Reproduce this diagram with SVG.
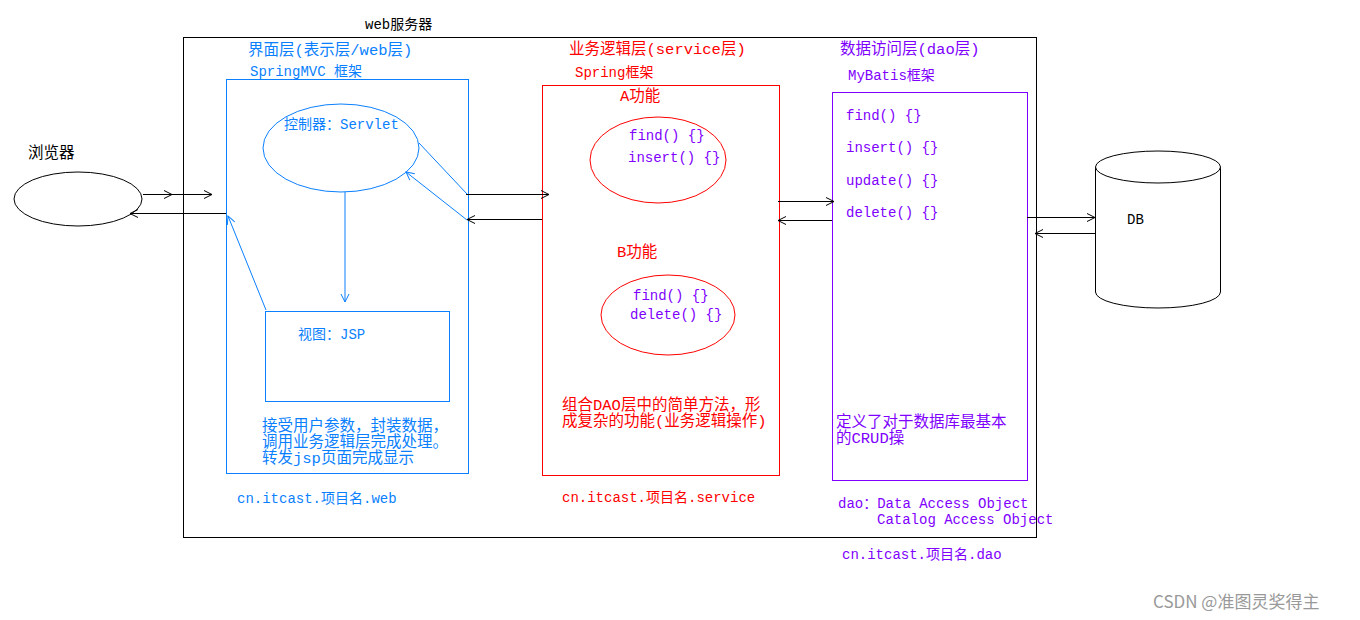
<svg xmlns="http://www.w3.org/2000/svg" width="1360" height="620" viewBox="0 0 1360 620">
<defs>
<marker id="a" markerWidth="10" markerHeight="10" refX="9" refY="5" orient="auto" markerUnits="userSpaceOnUse"><path d="M1,1 L9,5 L1,9" fill="none" stroke="context-stroke" stroke-width="1"/></marker>
</defs>
<style>
text{font-family:"Liberation Mono","Noto Sans CJK SC",monospace;font-size:14px}
.c{font-size:15.5px}
.k{fill:#000}.b{fill:#0a7fff}.r{fill:#ff0000}.p{fill:#8000ff}
line{stroke-width:1}
</style>
<rect width="1360" height="620" fill="#fff"/>
<g id="server"><rect x="183.5" y="37.5" width="853" height="500" fill="none" stroke="#000"/><text x="365" y="29" class="k">web服务器</text></g>
<g id="browser"><ellipse cx="78" cy="199" rx="64" ry="27" fill="none" stroke="#000"/><text x="28" y="158" class="k c" style="font-family:'Noto Sans CJK SC',sans-serif">浏览器</text></g>
<g id="web">
<rect x="226.5" y="79.5" width="242" height="394" fill="none" stroke="#0a7fff"/>
<text x="248" y="55" class="b c">界面层(表示层/web层)</text>
<text x="250" y="76" class="b">SpringMVC 框架</text>
<text x="262" y="431" class="b c">接受用户参数，封装数据，</text>
<text x="262" y="447" class="b c">调用业务逻辑层完成处理。</text>
<text x="262" y="463" class="b c">转发jsp页面完成显示</text>
<text x="237" y="503" class="b">cn.itcast.项目名.web</text>
</g>
<g id="servlet"><ellipse cx="341" cy="148" rx="78" ry="44" fill="none" stroke="#0a7fff"/><text x="284" y="129" class="b">控制器：Servlet</text></g>
<g id="jsp"><rect x="265.5" y="311.5" width="184" height="90" fill="none" stroke="#0a7fff"/><text x="298" y="339" class="b">视图：JSP</text></g>
<g id="service">
<rect x="542.5" y="85.5" width="237" height="390" fill="none" stroke="#ff0000"/>
<text x="569" y="54" class="r c">业务逻辑层(service层)</text>
<text x="575" y="77" class="r">Spring框架</text>
<text x="620" y="101" class="r c">A功能</text>
<text x="617" y="257" class="r c">B功能</text>
<text x="562" y="410" class="r c">组合DAO层中的简单方法，形</text>
<text x="562" y="426" class="r c">成复杂的功能(业务逻辑操作)</text>
<text x="562" y="502" class="r">cn.itcast.项目名.service</text>
</g>
<g id="funcA"><ellipse cx="658" cy="160" rx="68" ry="43" fill="none" stroke="#ff0000"/><text x="629" y="140" class="p">find() {}</text><text x="628" y="162" class="p">insert() {}</text></g>
<g id="funcB"><ellipse cx="668" cy="315" rx="67" ry="40" fill="none" stroke="#ff0000"/><text x="633" y="300" class="p">find() {}</text><text x="630" y="319" class="p">delete() {}</text></g>
<g id="dao">
<rect x="832.5" y="92.5" width="195" height="388" fill="none" stroke="#8000ff"/>
<text x="840" y="54" class="p c">数据访问层(dao层)</text>
<text x="848" y="80" class="p">MyBatis框架</text>
<text x="846" y="120" class="p">find() {}</text>
<text x="846" y="152" class="p">insert() {}</text>
<text x="846" y="185" class="p">update() {}</text>
<text x="846" y="217" class="p">delete() {}</text>
<text x="836" y="427" class="p c">定义了对于数据库最基本</text>
<text x="836" y="443" class="p c">的CRUD操</text>
<text x="838" y="508" class="p">dao：Data Access Object</text>
<text x="877" y="524" class="p">Catalog Access Object</text>
<text x="842" y="559" class="p">cn.itcast.项目名.dao</text>
</g>
<g id="db"><path d="M1095.5,167 V292 A62.5,16 0 0 0 1220.5,292 V167" fill="#fff" stroke="#000"/><ellipse cx="1158" cy="167" rx="62.5" ry="16" fill="#fff" stroke="#000"/><text x="1127" y="224" class="k">DB</text></g>
<text x="1153" y="608" style="font-family:'Noto Sans CJK SC',sans-serif;font-size:17px;fill:#999">CSDN @准图灵奖得主</text>
<g id="connectors" fill="none">
<line x1="143" y1="194.5" x2="172" y2="194.5" stroke="#000" marker-end="url(#a)"/>
<line x1="172" y1="194.5" x2="212" y2="194.5" stroke="#000" marker-end="url(#a)"/>
<line x1="226" y1="213.5" x2="130" y2="213.5" stroke="#000" marker-end="url(#a)"/>
<line x1="466" y1="194.5" x2="549" y2="194.5" stroke="#000" marker-end="url(#a)"/>
<line x1="542" y1="219.5" x2="467" y2="219.5" stroke="#000" marker-end="url(#a)"/>
<line x1="419" y1="143" x2="467" y2="194" stroke="#0a7fff"/>
<line x1="467" y1="220" x2="406" y2="172" stroke="#0a7fff" marker-end="url(#a)"/>
<line x1="345" y1="192" x2="345" y2="302" stroke="#0a7fff" marker-end="url(#a)"/>
<line x1="266" y1="310" x2="228" y2="216" stroke="#0a7fff" marker-end="url(#a)"/>
<line x1="778" y1="201.5" x2="834" y2="201.5" stroke="#000" marker-end="url(#a)"/>
<line x1="832" y1="220.5" x2="778" y2="220.5" stroke="#000" marker-end="url(#a)"/>
<line x1="1027" y1="217.5" x2="1095" y2="217.5" stroke="#000" marker-end="url(#a)"/>
<line x1="1095" y1="233.5" x2="1035" y2="233.5" stroke="#000" marker-end="url(#a)"/>
</g>
</svg>
